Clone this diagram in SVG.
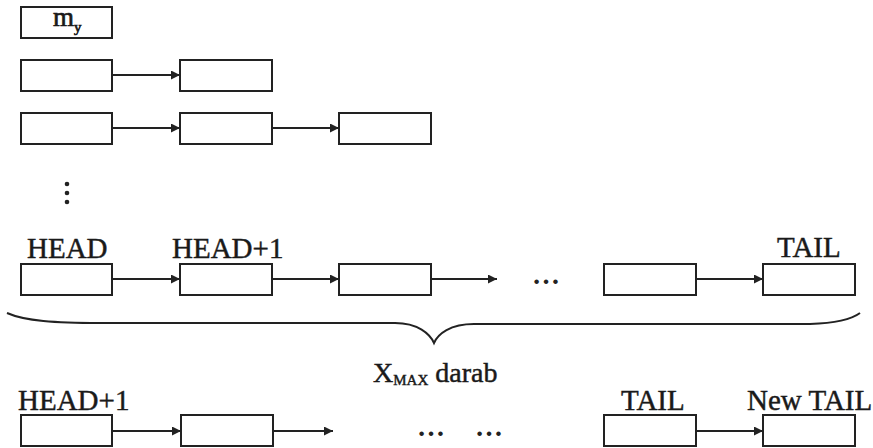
<svg xmlns="http://www.w3.org/2000/svg" width="873" height="448" viewBox="0 0 873 448">
  <style>
    .box { fill: #fff; stroke: #222; stroke-width: 2; }
    .link { stroke: #222; stroke-width: 1.8; fill: none; marker-end: url(#head); }
    .lbl { font-family: "Liberation Serif", "Times New Roman", serif; font-size: 29px; fill: #1a1a1a; stroke: #1a1a1a; stroke-width: 0.45; }
    .sub { font-family: "Liberation Serif", "Times New Roman", serif; font-size: 15px; }
    .dots { font-family: "Liberation Serif", "Times New Roman", serif; font-size: 28px; font-weight: bold; fill: #222; }
  </style>
  <defs>
    <marker id="head" viewBox="0 0 10 10" refX="10" refY="5" markerWidth="9" markerHeight="9" markerUnits="userSpaceOnUse" orient="auto">
      <path d="M0,0 L10,5 L0,10 Z" fill="#222"/>
    </marker>
  </defs>

  <!-- row 1: single element -->
  <g id="r1a"><rect class="box" x="21" y="7" width="91" height="31"/>
    <text class="lbl" x="53" y="26" style="font-size:27px;stroke-width:0.7">m<tspan class="sub" dy="6" style="font-size:15px">y</tspan></text></g>

  <!-- row 2 -->
  <g id="r2a"><rect class="box" x="21" y="60" width="91" height="31"/></g>
  <g id="r2b"><rect class="box" x="180" y="60" width="92" height="31"/></g>

  <!-- row 3 -->
  <g id="r3a"><rect class="box" x="21" y="113" width="91" height="31"/></g>
  <g id="r3b"><rect class="box" x="180" y="113" width="92" height="31"/></g>
  <g id="r3c"><rect class="box" x="339" y="113" width="92" height="31"/></g>

  <!-- vertical continuation -->
  <g id="vdots" fill="#222">
    <circle cx="67" cy="184" r="2.3"/>
    <circle cx="67" cy="193" r="2.3"/>
    <circle cx="67" cy="202" r="2.3"/>
  </g>

  <!-- row 4: full queue -->
  <g id="q1"><rect class="box" x="21" y="264" width="91" height="31"/>
    <text class="lbl" x="27" y="258">HEAD</text></g>
  <g id="q2"><rect class="box" x="180" y="264" width="92" height="31"/>
    <text class="lbl" x="172" y="258">HEAD+1</text></g>
  <g id="q3"><rect class="box" x="339" y="264" width="92" height="31"/></g>
  <text class="dots" x="532" y="284">…</text>
  <g id="q4"><rect class="box" x="604" y="264" width="92" height="31"/></g>
  <g id="q5"><rect class="box" x="763" y="264" width="92" height="31"/>
    <text class="lbl" x="777" y="257">TAIL</text></g>

  <!-- brace -->
  <g id="brace">
    <path d="M7,313 C25,321 55,323 100,323 L395,323 C418,323 430,334 434,343 C438,334 450,324 474,324 L810,324 C838,323 852,319 860,313" fill="none" stroke="#222" stroke-width="2"/>
    <text class="lbl" x="373" y="382" style="font-size:28px">X<tspan class="sub" dy="3">MAX</tspan><tspan dy="-3"> darab</tspan></text>
  </g>

  <!-- bottom row: after one shift -->
  <g id="b1"><rect class="box" x="21" y="415" width="91" height="31"/>
    <text class="lbl" x="18" y="410">HEAD+1</text></g>
  <g id="b2"><rect class="box" x="181" y="415" width="92" height="31"/></g>
  <text class="dots" x="417" y="436">…</text>
  <text class="dots" x="475" y="436">…</text>
  <g id="b3"><rect class="box" x="604" y="415" width="92" height="31"/>
    <text class="lbl" x="621" y="410">TAIL</text></g>
  <g id="b4"><rect class="box" x="763" y="415" width="92" height="31"/>
    <text class="lbl" x="747" y="410">New TAIL</text></g>

  <!-- connectors -->
  <g id="links">
    <line class="link" x1="112" y1="75" x2="180" y2="75"/>
    <line class="link" x1="112" y1="128" x2="180" y2="128"/>
    <line class="link" x1="272" y1="128" x2="339" y2="128"/>
    <line class="link" x1="112" y1="279" x2="180" y2="279"/>
    <line class="link" x1="272" y1="279" x2="339" y2="279"/>
    <line class="link" x1="431" y1="279" x2="497" y2="279"/>
    <line class="link" x1="696" y1="279" x2="763" y2="279"/>
    <line class="link" x1="112" y1="431" x2="181" y2="431"/>
    <line class="link" x1="273" y1="431" x2="333" y2="431"/>
    <line class="link" x1="696" y1="431" x2="763" y2="431"/>
  </g>
</svg>
